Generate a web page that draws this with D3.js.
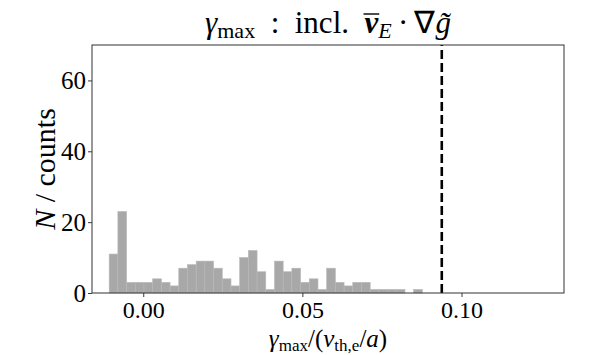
<!DOCTYPE html>
<html>
<head>
<meta charset="utf-8">
<script src="https://cdn.jsdelivr.net/npm/d3@7"></script>
<style>
  body { margin: 0; background: #fff; }
  svg { display: block; }
  text { font-family: "Liberation Serif", serif; fill: #000; }
</style>
</head>
<body>
<div id="chart"></div>
<script>
// histogram counts, 36 equal bins
const counts = [11, 23, 3, 3, 3, 4, 3, 2, 7, 8, 9, 9, 7, 4, 2, 10, 12, 6,
                1, 9, 6, 7, 3, 4, 1, 7, 3, 2, 3, 3, 1, 1, 1, 1, 0, 1];
const binRange = [-0.0107, 0.0877];
const threshold = 0.0938;
const xDomain = [-0.0161, 0.1322];
const yDomain = [0, 70];
const xTicks = [0, 0.05, 0.10];
const yTicks = [0, 20, 40, 60];

const width = 598;
const height = 355;
const margin = { top: 45, right: 34, bottom: 62, left: 92 };
const serif = '"Liberation Serif", serif';

const svg = d3.select('#chart').append('svg')
  .attr('width', width)
  .attr('height', height);

const xScale = d3.scaleLinear().domain(xDomain).range([margin.left, width - margin.right]);
const yScale = d3.scaleLinear().domain(yDomain).range([height - margin.bottom, margin.top]);

// bins
const binWidth = (binRange[1] - binRange[0]) / counts.length;
const bins = counts.map((c, i) => ({
  x0: binRange[0] + i * binWidth,
  x1: binRange[0] + (i + 1) * binWidth,
  count: c
}));

svg.append('g').attr('class', 'bars')
  .selectAll('rect').data(bins.filter(d => d.count > 0)).join('rect')
  .attr('x', d => xScale(d.x0))
  .attr('width', d => xScale(d.x1) - xScale(d.x0))
  .attr('y', d => yScale(d.count))
  .attr('height', d => yScale(0) - yScale(d.count))
  .attr('fill', '#a8a8a8')
  .attr('stroke', '#b8b8b8')
  .attr('stroke-width', 0.6);

// dashed threshold line
svg.append('line')
  .attr('x1', xScale(threshold)).attr('x2', xScale(threshold))
  .attr('y1', yScale(yDomain[0])).attr('y2', yScale(yDomain[1]))
  .attr('stroke', '#000')
  .attr('stroke-width', 2.6)
  .attr('stroke-dasharray', '9,4');

// axes
const xAxis = d3.axisBottom(xScale).tickValues(xTicks).tickFormat(d3.format('.2f')).tickSize(4).tickSizeOuter(0);
const yAxis = d3.axisLeft(yScale).tickValues(yTicks).tickFormat(d3.format('d')).tickSize(4).tickSizeOuter(0);

const gx = svg.append('g')
  .attr('transform', `translate(0, ${yScale(0)})`)
  .call(xAxis);
const gy = svg.append('g')
  .attr('transform', `translate(${margin.left}, 0)`)
  .call(yAxis);

[gx, gy].forEach(g => {
  g.attr('font-family', serif).attr('font-size', 25);
  g.select('.domain').remove();
  g.selectAll('.tick line').attr('stroke', '#222').attr('stroke-width', 0.9);
  g.selectAll('.tick text').attr('fill', '#000');
});
gx.attr('font-size', 24);
gx.selectAll('.tick text').attr('dy', '0.71em').attr('y', 8);
gy.selectAll('.tick text').attr('x', -6).attr('dy', '0.34em');

// frame
svg.append('rect')
  .attr('x', margin.left)
  .attr('y', margin.top)
  .attr('width', width - margin.left - margin.right)
  .attr('height', height - margin.top - margin.bottom)
  .attr('fill', 'none')
  .attr('stroke', '#333')
  .attr('stroke-width', 1);

// title
const cx = (margin.left + width - margin.right) / 2;
const title = svg.append('text')
  .attr('x', cx)
  .attr('y', 33)
  .attr('text-anchor', 'middle')
  .attr('font-family', serif)
  .attr('font-size', 31);
title.append('tspan').attr('font-style', 'italic').text('γ');
title.append('tspan').attr('font-size', 22).attr('dy', 5).text('max');
title.append('tspan').attr('dy', -5).text('\u2002:\u2002incl.\u2002');
title.append('tspan').attr('font-style', 'italic').attr('font-weight', 'bold').text('v');
title.append('tspan').attr('font-style', 'italic').attr('font-size', 22).attr('dy', 5).text('E');
title.append('tspan').attr('dy', -5).text('\u2009·\u2009∇');
title.append('tspan').attr('font-style', 'italic').text('g\u0303');

// overline above bold v
const titleNode = title.node();
const vIndex = 'γmax\u2002:\u2002incl.\u2002'.length;
const vStart = titleNode.getStartPositionOfChar(vIndex);
const vEnd = titleNode.getEndPositionOfChar(vIndex);
svg.append('line')
  .attr('x1', vStart.x - 1).attr('x2', vEnd.x + 1)
  .attr('y1', 14).attr('y2', 14)
  .attr('stroke', '#000').attr('stroke-width', 1.4);

// x label
const xl = svg.append('text')
  .attr('x', cx)
  .attr('y', 347)
  .attr('text-anchor', 'middle')
  .attr('font-family', serif)
  .attr('font-size', 25);
xl.append('tspan').attr('font-style', 'italic').text('γ');
xl.append('tspan').attr('font-size', 17).attr('dy', 4).text('max');
xl.append('tspan').attr('dy', -4).text('/(');
xl.append('tspan').attr('font-style', 'italic').text('v');
xl.append('tspan').attr('font-size', 17).attr('dy', 4).text('th,e');
xl.append('tspan').attr('dy', -4).text('/');
xl.append('tspan').attr('font-style', 'italic').text('a');
xl.append('tspan').text(')');

// y label
const yl = svg.append('text')
  .attr('transform', `translate(55, ${(margin.top + height - margin.bottom) / 2}) rotate(-90)`)
  .attr('text-anchor', 'middle')
  .attr('font-family', serif)
  .attr('font-size', 30);
yl.append('tspan').attr('font-style', 'italic').text('N');
yl.append('tspan').text(' / counts');
</script>
</body>
</html>
